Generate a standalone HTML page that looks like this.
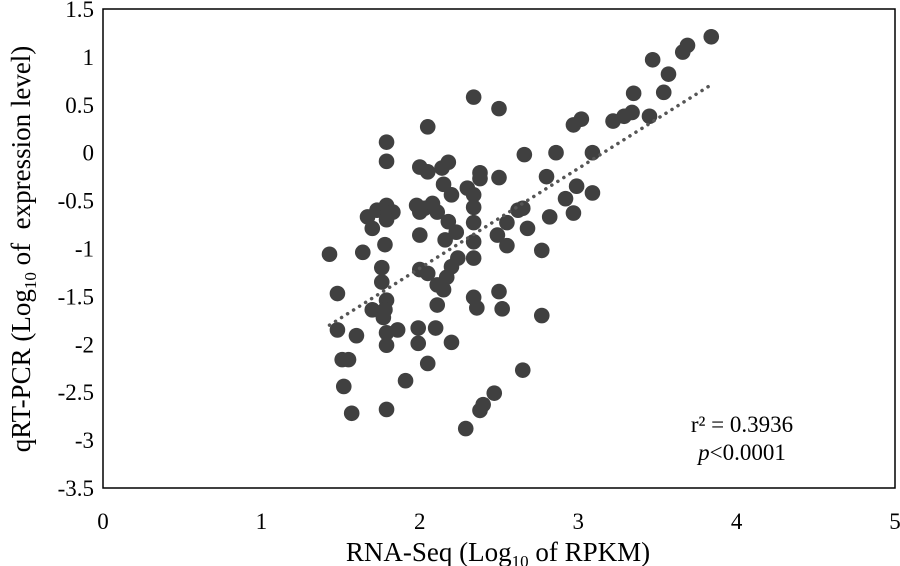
<!DOCTYPE html>
<html><head><meta charset="utf-8"><style>
body{margin:0;background:#fff;}
svg{display:block;font-family:"Liberation Serif",serif;}
</style></head><body>
<svg id="chart" width="900" height="566">
<rect x="103" y="9" width="792" height="479" fill="none" stroke="#000" stroke-width="1.5"/>
<g id="xticks"></g>
<g id="yticks"></g>
<g id="points"></g>
<line id="trend" stroke="#555" stroke-width="3.5" stroke-dasharray="0.1 7" stroke-linecap="round"/>
<text x="498" y="561" font-size="27" text-anchor="middle">RNA-Seq (Log<tspan font-size="17" dy="6">10</tspan><tspan dy="-6"> of RPKM)</tspan></text>
<text transform="translate(30,249) rotate(-90)" font-size="27" text-anchor="middle" xml:space="preserve">qRT-PCR (Log<tspan font-size="17" dy="6">10</tspan><tspan dy="-6"> of  expression level)</tspan></text>
<text x="742" y="432" font-size="23" text-anchor="middle">r² = 0.3936</text>
<text x="742" y="460" font-size="23" text-anchor="middle"><tspan font-style="italic">p</tspan>&lt;0.0001</text>
</svg>
<script>
const xTicks=[0,1,2,3,4,5];
const yTicks=[1.5,1,0.5,0,-0.5,-1,-1.5,-2,-2.5,-3,-3.5];
const xVals=[2.34,2.50,2.05,1.79,1.79,2.00,2.05,2.18,2.14,2.15,2.20,2.38,2.38,2.50,2.30,2.34,2.34,2.66,2.86,2.80,2.97,3.02,3.22,3.09,2.99,2.92,3.09,2.97,2.82,2.62,2.65,2.68,2.55,2.49,2.55,2.77,1.67,1.73,1.79,1.83,1.79,1.70,1.98,2.03,2.08,2.11,2.00,2.18,2.23,2.16,2.34,2.34,2.34,2.24,2.20,2.00,1.78,1.43,1.64,1.76,1.76,2.00,2.05,2.17,2.11,2.15,1.48,1.79,1.70,1.78,1.77,2.11,2.34,2.36,2.50,2.52,2.77,1.48,1.60,1.79,1.86,1.79,1.99,2.10,1.99,2.20,1.51,1.55,2.05,1.52,1.91,2.65,2.47,2.40,2.38,1.57,1.79,2.29,3.84,3.69,3.66,3.57,3.47,3.54,3.34,3.45,3.29,3.35];
const yVals=[0.58,0.46,0.27,0.11,-0.09,-0.15,-0.20,-0.10,-0.16,-0.33,-0.44,-0.21,-0.27,-0.26,-0.37,-0.44,-0.57,-0.02,0.00,-0.25,0.29,0.35,0.33,0.00,-0.35,-0.48,-0.42,-0.63,-0.67,-0.60,-0.58,-0.79,-0.73,-0.86,-0.97,-1.02,-0.67,-0.60,-0.55,-0.62,-0.70,-0.79,-0.55,-0.58,-0.53,-0.62,-0.62,-0.72,-0.83,-0.91,-0.73,-0.93,-1.10,-1.10,-1.19,-0.86,-0.96,-1.06,-1.04,-1.20,-1.35,-1.22,-1.26,-1.30,-1.38,-1.43,-1.47,-1.54,-1.64,-1.64,-1.72,-1.59,-1.51,-1.62,-1.45,-1.63,-1.70,-1.85,-1.91,-1.88,-1.85,-2.01,-1.83,-1.83,-1.99,-1.98,-2.16,-2.16,-2.20,-2.44,-2.38,-2.27,-2.51,-2.63,-2.69,-2.72,-2.68,-2.88,1.21,1.12,1.05,0.82,0.97,0.63,0.42,0.38,0.38,0.62];
const trendX=[1.43,3.85];
const trendY=[-1.8,0.72];
const X0=103,X1=895,Y0=9,Y1=488;
const sx=v=>X0+(v-0)/(5-0)*(X1-X0);
const sy=v=>Y0+(1.5-v)/(1.5+3.5)*(Y1-Y0);
const NS='http://www.w3.org/2000/svg';
const gx=document.getElementById('xticks');
xTicks.forEach(t=>{const e=document.createElementNS(NS,'text');
e.setAttribute('x',sx(t));e.setAttribute('y',529);e.setAttribute('font-size','23');e.setAttribute('text-anchor','middle');


e.textContent=t;gx.appendChild(e);});
const gy=document.getElementById('yticks');
yTicks.forEach(t=>{const e=document.createElementNS(NS,'text');
e.setAttribute('x',94);e.setAttribute('y',sy(t)+8);e.setAttribute('font-size','23');e.setAttribute('text-anchor','end');


e.textContent=t;gy.appendChild(e);});
const gp=document.getElementById('points');
xVals.forEach((v,i)=>{const c=document.createElementNS(NS,'circle');
c.setAttribute('cx',sx(v));c.setAttribute('cy',sy(yVals[i]));c.setAttribute('r',7.8);c.setAttribute('fill','#404040');


gp.appendChild(c);});
const tl=document.getElementById('trend');
tl.setAttribute('x1',sx(trendX[0]));tl.setAttribute('y1',sy(trendY[0]));
tl.setAttribute('x2',sx(trendX[1]));tl.setAttribute('y2',sy(trendY[1]));
</script>
</body></html>
